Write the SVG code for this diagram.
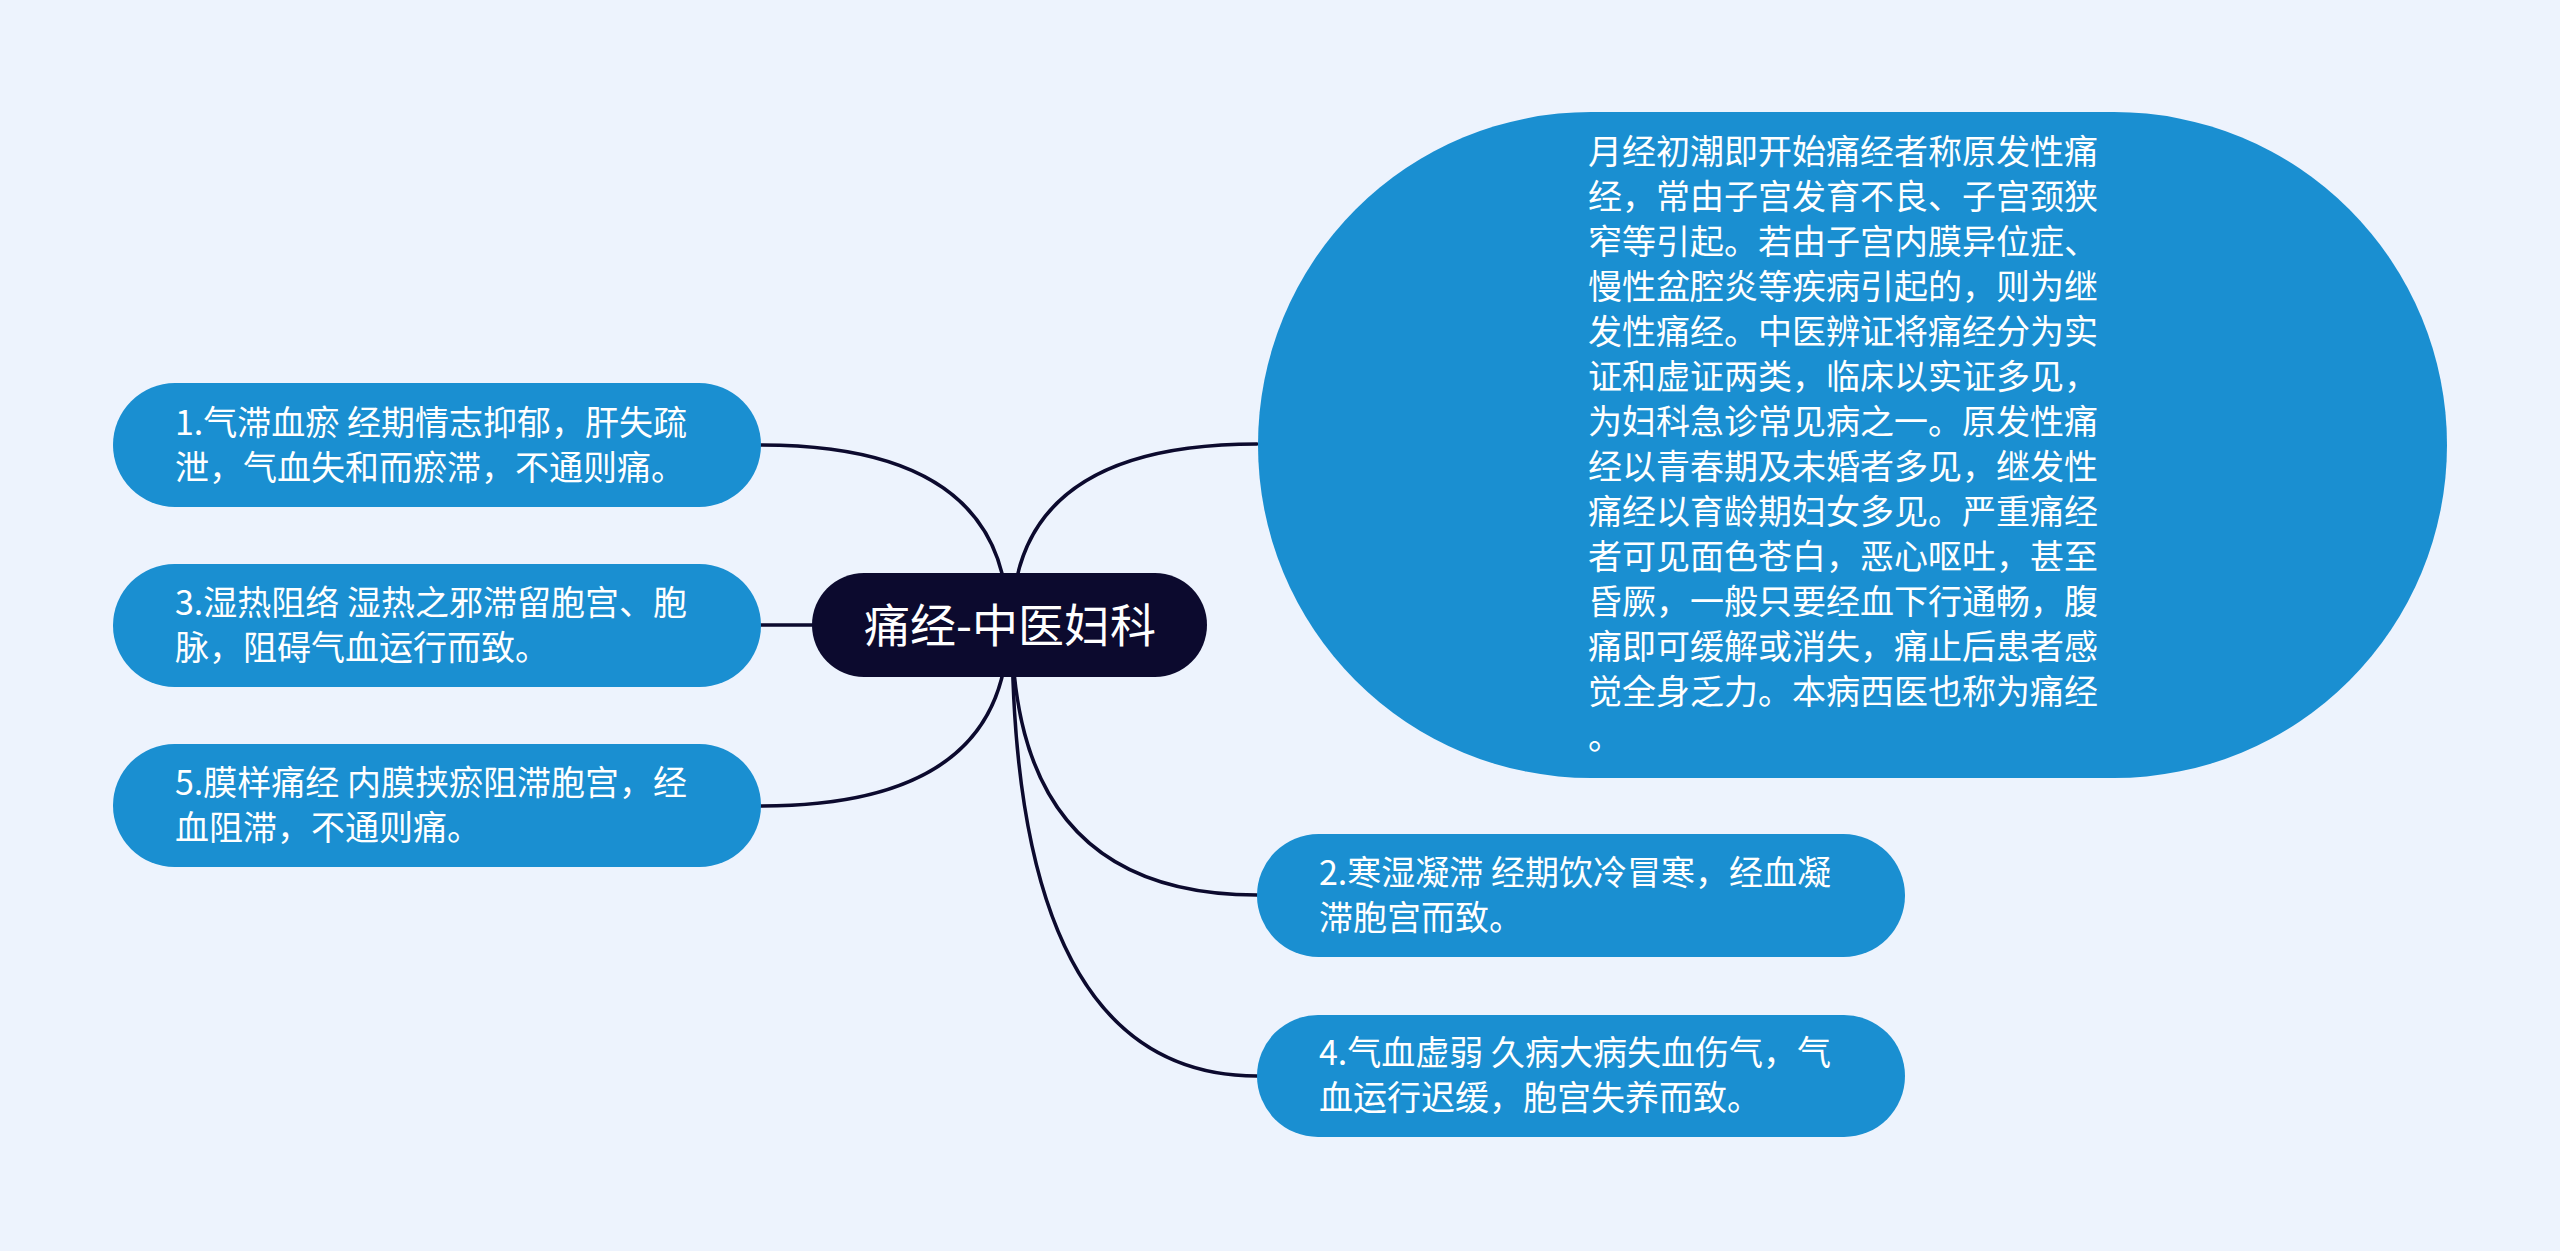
<svg xmlns="http://www.w3.org/2000/svg" width="2560" height="1251" viewBox="0 0 2560 1251">
<style>
.bg{fill:#edf3fd}
.node{fill:#1a8fd1}
.root{fill:#0c0a2e}
.t{font-family:"Noto Sans CJK SC","Noto Sans",sans-serif;font-size:34px;fill:#ffffff}
.rt{font-family:"Noto Sans CJK SC","Noto Sans",sans-serif;font-size:46px;fill:#ffffff}
.edge{fill:none;stroke:#0c0a2e;stroke-width:3.5;stroke-linecap:round}
</style>
<rect class="bg" x="0" y="0" width="2560" height="1251"/>
<g id="connectors">
  <path class="edge" d="M1012 625 Q1012 444 1257 444"/>
  <path class="edge" d="M1012 625 Q1012 895 1257 895"/>
  <path class="edge" d="M1012 625 Q1012 1076 1257 1076"/>
  <path class="edge" d="M1008 625 Q1008 445 761 445"/>
  <path class="edge" d="M812 625 L761 625"/>
  <path class="edge" d="M1008 625 Q1008 806 761 806"/>
</g>
<g id="root">
  <rect class="root" x="812" y="573" width="395" height="104" rx="52" ry="52"/>
  <text class="rt" x="1010" y="642" text-anchor="middle">痛经-中医妇科</text>
</g>
<g id="node-desc">
  <rect class="node" x="1258" y="112" width="1189" height="666" rx="333" ry="333"/>
  <text class="t" x="1588" y="164">月经初潮即开始痛经者称原发性痛</text>
  <text class="t" x="1588" y="209">经，常由子宫发育不良、子宫颈狭</text>
  <text class="t" x="1588" y="254">窄等引起。若由子宫内膜异位症、</text>
  <text class="t" x="1588" y="299">慢性盆腔炎等疾病引起的，则为继</text>
  <text class="t" x="1588" y="344">发性痛经。中医辨证将痛经分为实</text>
  <text class="t" x="1588" y="389">证和虚证两类，临床以实证多见，</text>
  <text class="t" x="1588" y="434">为妇科急诊常见病之一。原发性痛</text>
  <text class="t" x="1588" y="479">经以青春期及未婚者多见，继发性</text>
  <text class="t" x="1588" y="524">痛经以育龄期妇女多见。严重痛经</text>
  <text class="t" x="1588" y="569">者可见面色苍白，恶心呕吐，甚至</text>
  <text class="t" x="1588" y="614">昏厥，一般只要经血下行通畅，腹</text>
  <text class="t" x="1588" y="659">痛即可缓解或消失，痛止后患者感</text>
  <text class="t" x="1588" y="704">觉全身乏力。本病西医也称为痛经</text>
  <text class="t" x="1588" y="749">。</text>
</g>
<g id="node-1">
  <rect class="node" x="113" y="383" width="648" height="124" rx="62" ry="62"/>
  <text class="t" x="175" y="435">1.气滞血瘀 经期情志抑郁，肝失疏</text>
  <text class="t" x="175" y="480">泄，气血失和而瘀滞，不通则痛。</text>
</g>
<g id="node-3">
  <rect class="node" x="113" y="564" width="648" height="123" rx="61.5" ry="61.5"/>
  <text class="t" x="175" y="615">3.湿热阻络 湿热之邪滞留胞宫、胞</text>
  <text class="t" x="175" y="660">脉，阻碍气血运行而致。</text>
</g>
<g id="node-5">
  <rect class="node" x="113" y="744" width="648" height="123" rx="61.5" ry="61.5"/>
  <text class="t" x="175" y="795">5.膜样痛经 内膜挟瘀阻滞胞宫，经</text>
  <text class="t" x="175" y="840">血阻滞，不通则痛。</text>
</g>
<g id="node-2">
  <rect class="node" x="1257" y="834" width="648" height="123" rx="61.5" ry="61.5"/>
  <text class="t" x="1319" y="885">2.寒湿凝滞 经期饮冷冒寒，经血凝</text>
  <text class="t" x="1319" y="930">滞胞宫而致。</text>
</g>
<g id="node-4">
  <rect class="node" x="1257" y="1015" width="648" height="122" rx="61" ry="61"/>
  <text class="t" x="1319" y="1065">4.气血虚弱 久病大病失血伤气，气</text>
  <text class="t" x="1319" y="1110">血运行迟缓，胞宫失养而致。</text>
</g>
</svg>
